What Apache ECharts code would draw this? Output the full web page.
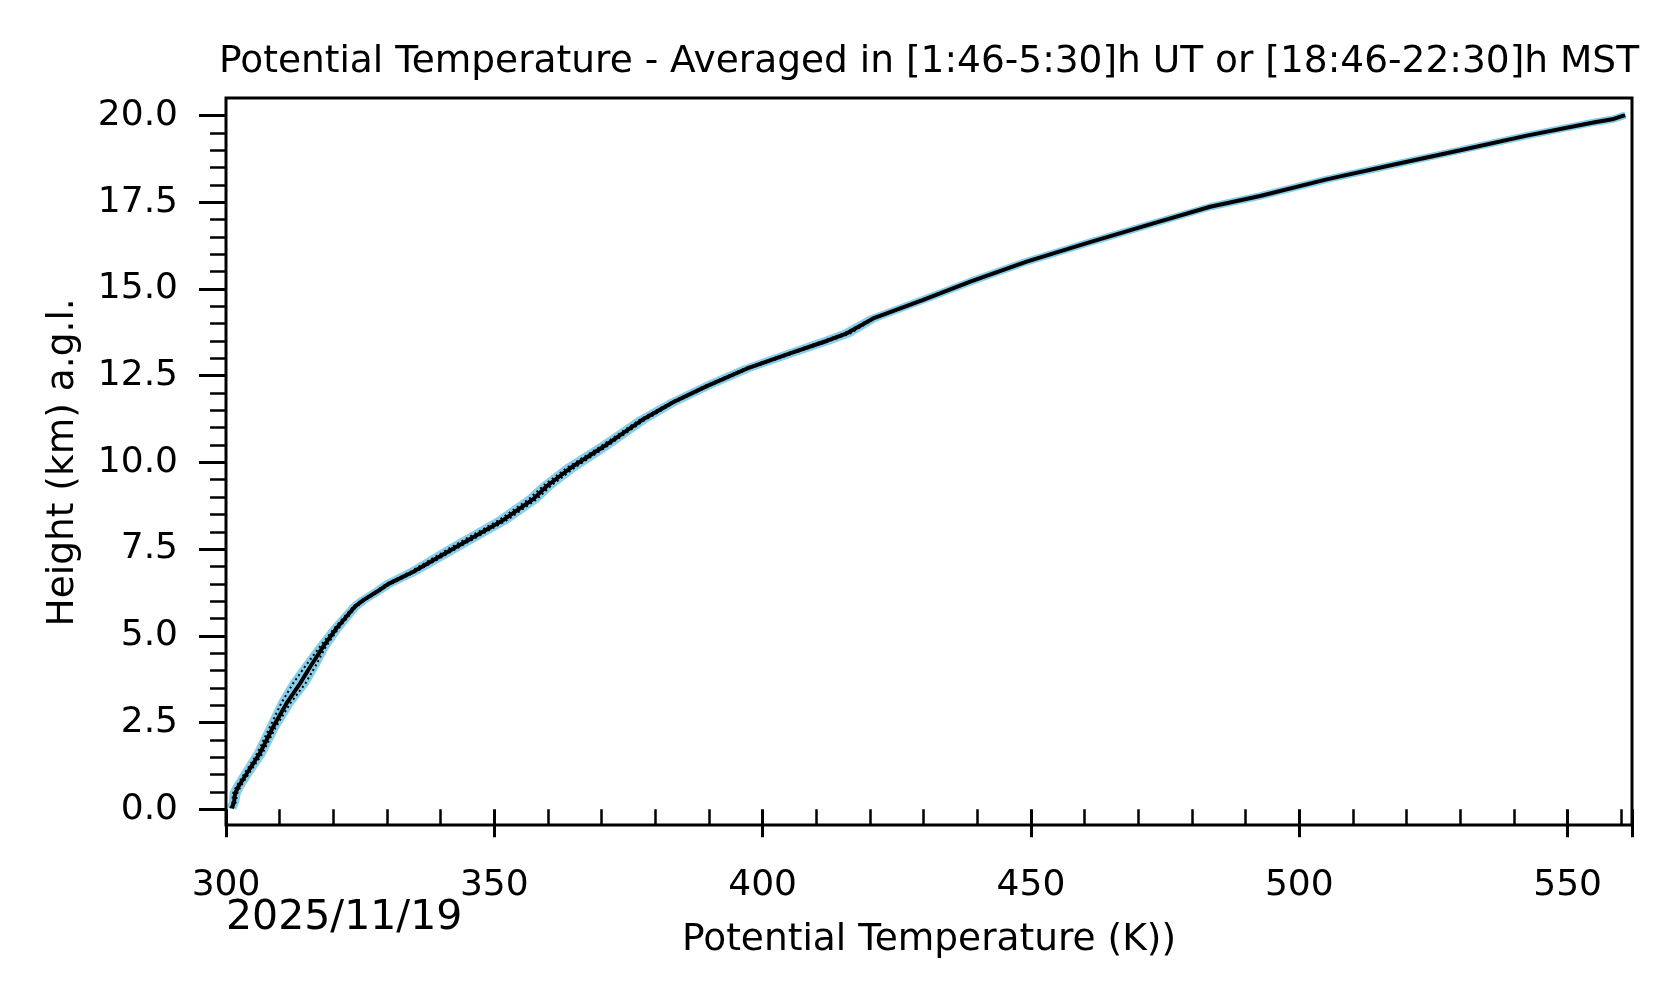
<!DOCTYPE html>
<html>
<head>
<meta charset="utf-8">
<script src="https://cdn.jsdelivr.net/npm/echarts@6/dist/echarts.min.js"></script>
<style>html,body{margin:0;padding:0;background:#fff}#c{width:1676px;height:1003px}</style>
</head>
<body>
<div id="c"></div>
<script>
const heights = [0.03, 0.2, 0.46, 0.65, 1.04, 1.61, 2.38, 3.06, 3.63, 4.11, 4.69, 5.22, 5.84, 6.03, 6.27, 6.49, 6.85, 7.52, 8.34, 8.95, 9.32, 9.83, 10.45, 11.22, 11.74, 12.2, 12.7, 13.14, 13.5, 13.72, 14.15, 14.68, 15.21, 15.79, 16.32, 16.89, 17.37, 17.68, 18.16, 18.58, 19.0, 19.42, 19.8, 19.9, 20.01];
const thetaMean = [301.06, 301.5, 301.7, 302.3, 303.9, 306.3, 308.8, 311.3, 313.8, 315.7, 318.1, 320.6, 324.0, 325.6, 328.1, 330.2, 334.9, 342.4, 351.7, 357.3, 359.8, 364.1, 370.3, 377.5, 383.4, 389.6, 397.0, 405.1, 411.9, 415.7, 420.6, 429.8, 438.7, 449.2, 460.4, 472.8, 483.4, 492.7, 505.1, 517.5, 530.0, 542.4, 554.8, 558.6, 560.7];
const thetaLow = [300.8, 301.2, 301.3, 301.9, 303.5, 305.8, 308.2, 310.3, 312.5, 314.7, 317.5, 320.2, 323.7, 325.3, 327.8, 329.8, 334.4, 341.6, 350.9, 356.5, 359.1, 363.4, 369.7, 377.0, 383.0, 389.2, 396.6, 404.6, 411.3, 415.2, 420.3, 429.6, 438.5, 449.0, 460.3, 472.7, 483.3, 492.6, 505.0, 517.4, 529.9, 542.3, 554.7, 558.5, 560.6];
const thetaHigh = [301.3, 301.8, 302.1, 302.7, 304.3, 306.8, 309.3, 312.0, 314.8, 316.6, 318.6, 321.0, 324.3, 325.9, 328.4, 330.6, 335.4, 343.0, 352.4, 358.0, 360.5, 364.8, 370.9, 378.0, 383.8, 390.0, 397.4, 405.6, 412.5, 416.3, 420.9, 430.0, 438.9, 449.4, 460.5, 472.9, 483.5, 492.8, 505.2, 517.6, 530.1, 542.5, 554.9, 558.7, 560.8];
const xTickLabels = ['300', '350', '400', '450', '500', '550'];
const yTickLabels = ['0.0', '2.5', '5.0', '7.5', '10.0', '12.5', '15.0', '17.5', '20.0'];
const titleText = 'Potential Temperature - Averaged in [1:46-5:30]h UT or [18:46-22:30]h MST';
const xName = 'Potential Temperature (K))';
const yName = 'Height (km) a.g.l.';
const dateText = '2025/11/19';

const FONT = 'DejaVu Sans';
const pairs = arr => arr.map((t, i) => [t, heights[i]]);

const chart = echarts.init(document.getElementById('c'), null, {renderer: 'canvas'});
chart.setOption({
  animation: false,
  backgroundColor: '#fff',
  grid: [
    {left: 226, right: 44, top: 115.5, bottom: 193.7},
    {left: 226, right: 44, top: 98, bottom: 178, show: true, borderColor: '#000', borderWidth: 3, backgroundColor: 'transparent', z: 10}
  ],
  xAxis: [{
    gridIndex: 0, type: 'value', min: 300, max: 562, interval: 50, offset: 15.7,
    splitLine: {show: false},
    axisLine: {show: false},
    axisTick: {show: true, length: 28, lineStyle: {color: '#000', width: 3}},
    minorTick: {show: true, splitNumber: 5, length: 16, lineStyle: {color: '#000', width: 2.5}},
    axisLabel: {color: '#000', fontFamily: FONT, fontSize: 36, margin: 43,
      formatter: v => xTickLabels[Math.round((v - 300) / 50)] ?? ''},
    name: xName, nameLocation: 'middle', nameGap: 96,
    nameTextStyle: {color: '#000', fontFamily: FONT, fontSize: 37.5}
  }],
  yAxis: [{
    gridIndex: 0, type: 'value', min: 0, max: 20, interval: 2.5,
    splitLine: {show: false},
    axisLine: {show: false},
    axisTick: {show: true, length: 27, lineStyle: {color: '#000', width: 3}},
    minorTick: {show: true, splitNumber: 5, length: 16, lineStyle: {color: '#000', width: 2.5}},
    axisLabel: {color: '#000', fontFamily: FONT, fontSize: 36, margin: 48,
      formatter: v => yTickLabels[Math.round(v / 2.5)] ?? ''},
    name: yName, nameLocation: 'middle', nameGap: 144,
    nameTextStyle: {color: '#000', fontFamily: FONT, fontSize: 37.5}
  }],
  graphic: [
    {type: 'text', x: 929, y: 62, silent: true,
      style: {text: titleText, fill: '#000', font: '37.5px "DejaVu Sans"', align: 'center', verticalAlign: 'middle'}},
    {type: 'text', left: 226, top: 898, silent: true,
      style: {text: dateText, fill: '#000', font: '41px "DejaVu Sans"'}}
  ],
  series: [
    {type: 'line', data: pairs(thetaLow), showSymbol: false,
      lineStyle: {color: '#87CEEB', width: 7}, z: 1},
    {type: 'line', data: pairs(thetaHigh), showSymbol: false,
      lineStyle: {color: '#87CEEB', width: 7}, z: 1},
    {type: 'line', data: pairs(thetaLow), showSymbol: false,
      lineStyle: {color: '#000', width: 2, type: [2, 3]}, z: 2},
    {type: 'line', data: pairs(thetaHigh), showSymbol: false,
      lineStyle: {color: '#000', width: 2, type: [2, 3]}, z: 2},
    {type: 'line', data: pairs(thetaMean), showSymbol: false,
      lineStyle: {color: '#000', width: 4}, z: 3}
  ]
});
</script>
</body>
</html>
